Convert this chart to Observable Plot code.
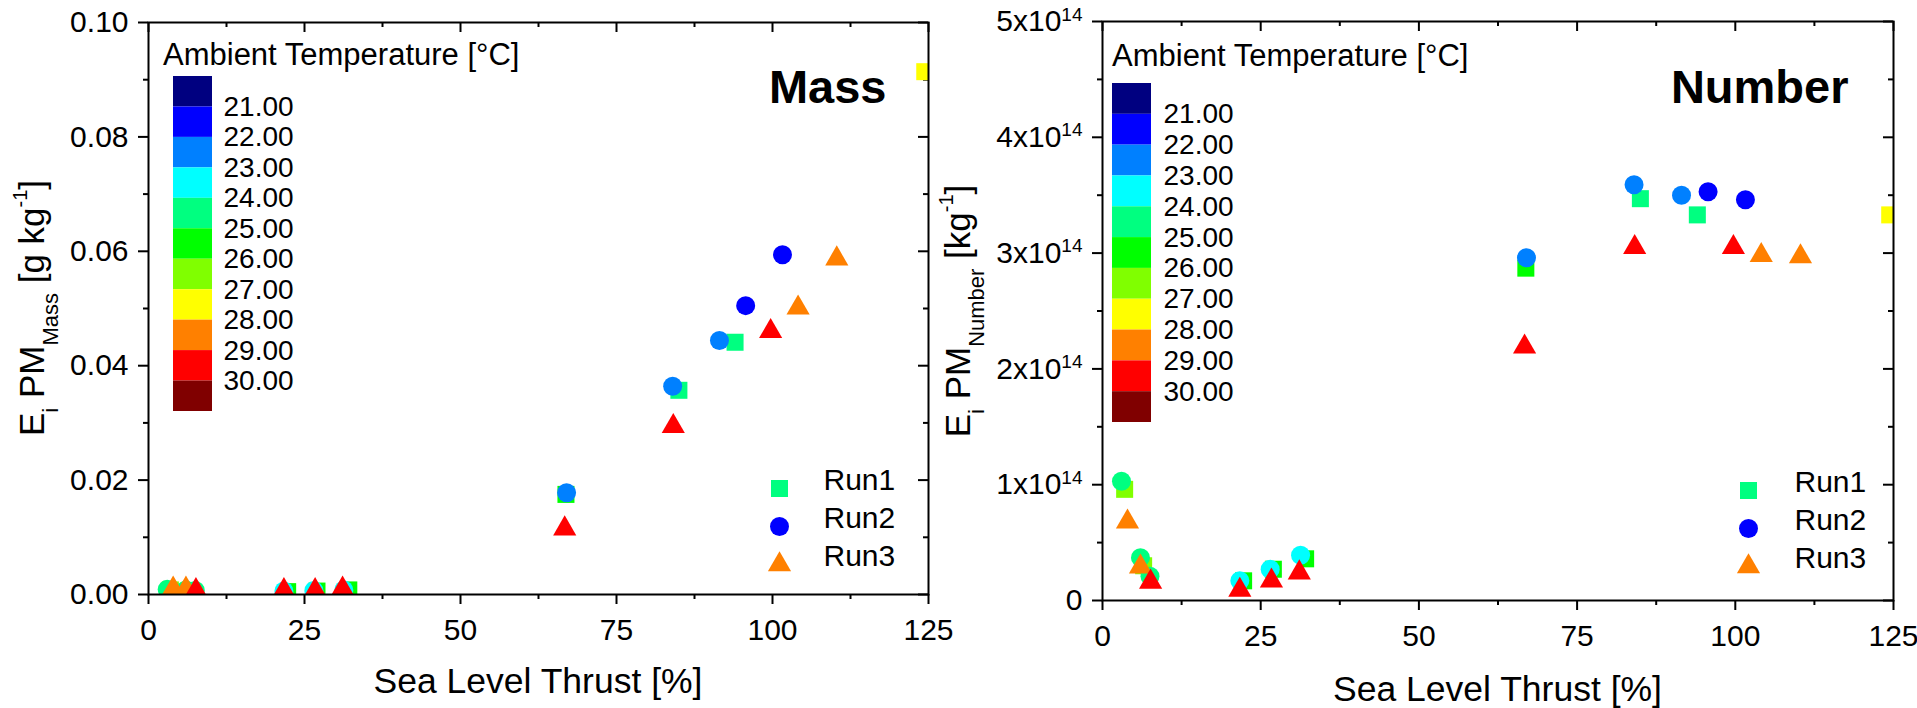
<!DOCTYPE html>
<html><head><meta charset="utf-8">
<script src="https://cdn.jsdelivr.net/npm/d3@7"></script>
<script src="https://cdn.jsdelivr.net/npm/@observablehq/plot@0.6"></script>
<style>
body{margin:0;background:#fff;}
#wrap{position:relative;width:1917px;height:708px;overflow:hidden;font-family:"Liberation Sans",Arial,sans-serif;}
#wrap > svg, #wrap > figure{position:absolute;margin:0;}
</style></head><body><div id="wrap"></div>
<script>
// ---------- data ----------
const thrustTicks = [0, 25, 50, 75, 100, 125];
const thrustMinor = [12.5, 37.5, 62.5, 87.5, 112.5];
const massTicks = [0, 0.02, 0.04, 0.06, 0.08, 0.10];
const massMinor = [0.01, 0.03, 0.05, 0.07, 0.09];
const numberTicks = [0, 1e14, 2e14, 3e14, 4e14, 5e14];
const numberMinor = [0.5e14, 1.5e14, 2.5e14, 3.5e14, 4.5e14];
const tempTicks = [21, 22, 23, 24, 25, 26, 27, 28, 29, 30];
const tempBandStarts = [20, 21, 22, 23, 24, 25, 26, 27, 28, 29, 30];
const tempColors = ["#000080","#0000ff","#0080ff","#00ffff","#00ff80","#00ff00","#80ff00","#ffff00","#ff8000","#ff0000","#800000"];
const runNames = ["Run1", "Run2", "Run3"];
const runSymbols = ["square", "circle", "triangle"];
const runLegendColors = ["#00ff80", "#0000ff", "#ff8000"];

const run1Thrust = [3.5, 6.5, 22.3, 27.0, 32.1, 66.9, 85.0, 94.0, 124.4];
const run1Mass   = [0.0008, 0.0007, 0.0005, 0.0006, 0.0008, 0.0175, 0.0357, 0.0441, 0.0914];
const run1Number = [0.96e14, 0.30e14, 0.17e14, 0.27e14, 0.36e14, 2.87e14, 3.47e14, 3.33e14, 3.33e14];
const run1Temp   = [26.5, 26.5, 25.5, 25.5, 25.5, 25.5, 24.5, 24.5, 27.5];

const run2Thrust = [3.0, 6.0, 7.5, 21.7, 26.5, 31.3, 67.0, 84.0, 91.5, 95.7, 101.6];
const run2Mass   = [0.0009, 0.0008, 0.0007, 0.0006, 0.0007, 0.0008, 0.0178, 0.0364, 0.0444, 0.0505, 0.0594];
const run2Number = [1.03e14, 0.37e14, 0.21e14, 0.17e14, 0.27e14, 0.39e14, 2.96e14, 3.59e14, 3.50e14, 3.53e14, 3.46e14];
const run2Temp   = [24.5, 24.5, 24.5, 23.5, 23.5, 23.5, 22.5, 22.5, 22.5, 21.5, 21.5];

const run3Thrust = [3.95, 6.0, 7.6, 21.7, 26.7, 31.1, 66.7, 84.1, 99.7, 104.1, 110.3];
const run3Mass   = [0.0010, 0.0010, 0.0007, 0.0007, 0.0007, 0.0010, 0.0115, 0.0294, 0.0460, 0.0501, 0.0587];
const run3Number = [0.68e14, 0.29e14, 0.16e14, 0.09e14, 0.17e14, 0.24e14, 2.19e14, 3.05e14, 3.05e14, 2.98e14, 2.97e14];
const run3Temp   = [28.5, 28.5, 29.5, 29.5, 29.5, 29.5, 29.5, 29.5, 29.5, 28.5, 28.5];

// ---------- build ----------
const rows = (t, m, n, tp) => t.map((x, i) => ({thrust: x, mass: m[i], number: n[i], temp: tp[i]}));
const runs = [
  rows(run1Thrust, run1Mass, run1Number, run1Temp),
  rows(run2Thrust, run2Mass, run2Number, run2Temp),
  rows(run3Thrust, run3Mass, run3Number, run3Temp)
];
const symbolR = {square: 9.6, circle: 9.5, triangle: 8.6};
const FONT = "'Liberation Sans', Arial, sans-serif";
const wrap = document.getElementById("wrap");

function panel(o) {
  const plotW = o.width - o.mL - o.mR, plotH = 708 - o.mT - o.mB;
  const marks = [
    Plot.axisX({ticks: thrustTicks, tickSize: 10, tickPadding: 14, strokeWidth: 2, fontSize: 30, label: null, tickFormat: d => String(d)}),
    Plot.axisX({ticks: thrustMinor, tickSize: 5, strokeWidth: 2, label: null, tickFormat: () => ""}),
    Plot.axisY({ticks: o.yTicks, tickSize: 10, tickPadding: 10, strokeWidth: 2, fontSize: 30, label: null, tickFormat: o.yFormat}),
    Plot.axisY({ticks: o.yMinor, tickSize: 5, strokeWidth: 2, label: null, tickFormat: () => ""}),
    Plot.tickX(thrustTicks, {x: d => d, insetBottom: plotH - 10, strokeWidth: 2}),
    Plot.tickX(thrustMinor, {x: d => d, insetBottom: plotH - 5, strokeWidth: 2}),
    Plot.tickY(o.yTicks, {y: d => d, insetLeft: plotW - 10, strokeWidth: 2}),
    Plot.tickY(o.yMinor, {y: d => d, insetLeft: plotW - 5, strokeWidth: 2})
  ];
  runs.forEach((data, i) => {
    marks.push(Plot.dot(data, {x: "thrust", y: o.yKey, fill: "temp", symbol: runSymbols[i], r: symbolR[runSymbols[i]], clip: true}));
  });
  runNames.forEach((name, i) => {
    marks.push(Plot.dot([name], {frameAnchor: "bottom-right", dx: o.legDx, dy: o.legDy[i], symbol: runSymbols[i], r: symbolR[runSymbols[i]], fill: runLegendColors[i]}));
    marks.push(Plot.text([name], {text: d => d, frameAnchor: "bottom-right", dx: o.legTextDx, dy: o.legDy[i] + 1, textAnchor: "start", fontSize: 30, fill: "#000"}));
  });
  marks.push(Plot.text([o.name], {text: d => d, frameAnchor: "top-right", dx: o.nameDx, dy: o.nameDy, textAnchor: "end", lineAnchor: "top", fontSize: 47, fontWeight: "bold", fill: "#000"}));
  marks.push(Plot.frame({strokeWidth: 2, stroke: "#000"}));
  const svg = Plot.plot({
    width: o.width, height: 708,
    marginLeft: o.mL, marginRight: o.mR, marginTop: o.mT, marginBottom: o.mB,
    style: {fontFamily: FONT, fontSize: "30px", color: "#000", background: "transparent", overflow: "visible"},
    x: {domain: [0, 125]},
    y: {domain: o.yDomain},
    color: {type: "threshold", domain: tempTicks, range: tempColors},
    marks
  });
  svg.style.left = o.left + "px";
  svg.style.top = "0px";
  wrap.appendChild(svg);
  const s = d3.select(svg);
  // superscript tick labels
  s.selectAll('g[aria-label="y-axis tick label"] text').each(function () {
    const t = this.textContent;
    if (t.includes("^")) {
      const [base, exp] = t.split("^");
      this.textContent = "";
      const el = d3.select(this);
      el.append("tspan").text(base);
      el.append("tspan").attr("dy", "-0.55em").attr("font-size", 19).text(exp);
    }
  });
  // y title
  const yt = s.append("text").attr("transform", `translate(${o.yTitleX},${o.yTitleY}) rotate(-90)`)
    .attr("text-anchor", "middle").attr("font-size", 35).attr("font-family", FONT).attr("fill", "#000");
  yt.append("tspan").text("E");
  yt.append("tspan").attr("font-size", 22).attr("dy", 14).text("i");
  yt.append("tspan").attr("dy", -14).text(" PM");
  yt.append("tspan").attr("font-size", 22).attr("dy", 14).text(o.sub);
  yt.append("tspan").attr("dy", -14).text(" [" + o.unit);
  yt.append("tspan").attr("font-size", 20).attr("dy", -17).text("-1");
  yt.append("tspan").attr("dy", 17).text("]");
  // x title
  s.append("text").attr("x", o.xTitleX).attr("y", o.xTitleY).attr("text-anchor", "middle")
    .attr("font-size", 35.5).attr("font-family", FONT).attr("fill", "#000").text("Sea Level Thrust [%]");
  // colorbar title
  s.append("text").attr("x", o.cbTitleX).attr("y", o.cbTitleY).attr("text-anchor", "start").attr("font-size", 31)
    .attr("font-family", FONT).attr("fill", "#000").text("Ambient Temperature [°C]");
}

function colorbar(left, top, h, pad) {
  const svg = Plot.plot({
    width: 160, height: h, marginLeft: 0, marginRight: 121, marginTop: 0, marginBottom: 0,
    style: {fontFamily: FONT, fontSize: "28px", color: "#000", background: "transparent", overflow: "visible"},
    x: {domain: [0, 1], axis: null},
    y: {domain: [20, 31], reverse: true, axis: null},
    color: {type: "threshold", domain: tempTicks, range: tempColors},
    marks: [
      Plot.rect(tempBandStarts, {x1: 0, x2: 1, y1: d => d, y2: d => d + 1, fill: d => d + 0.5}),
      Plot.axisY({anchor: "right", ticks: tempTicks, tickSize: 0, tickPadding: pad, fontSize: 28, label: null, tickFormat: d3.format(".2f")})
    ]
  });
  svg.style.left = left + "px";
  svg.style.top = top + "px";
  wrap.appendChild(svg);
}

panel({
  left: 0, width: 940, mL: 148, mR: 12, mT: 22, mB: 114,
  yKey: "mass", yDomain: [0, 0.1], yTicks: massTicks, yMinor: massMinor, yFormat: d3.format(".2f"),
  legDx: -149, legDy: [-106, -68, -30], legTextDx: -105,
  name: "Mass", nameDx: -42, nameDy: 47,
  sub: "Mass", unit: "g kg", yTitleX: 44, yTitleY: 308,
  xTitleX: 538, xTitleY: 693, cbTitleX: 163, cbTitleY: 65
});
panel({
  left: 940, width: 977, mL: 162, mR: 24, mT: 21, mB: 108,
  yKey: "number", yDomain: [0, 5e14], yTicks: numberTicks, yMinor: numberMinor,
  yFormat: d => d === 0 ? "0" : `${Math.round(d / 1e14)}x10^14`,
  legDx: -145, legDy: [-110, -72, -34], legTextDx: -99,
  name: "Number", nameDx: -45, nameDy: 48,
  sub: "Number", unit: "kg", yTitleX: 30, yTitleY: 311,
  xTitleX: 557.5, xTitleY: 701, cbTitleX: 172, cbTitleY: 66
});
colorbar(173, 76, 335, 11);
colorbar(1112, 83, 339, 12);
</script></body></html>
